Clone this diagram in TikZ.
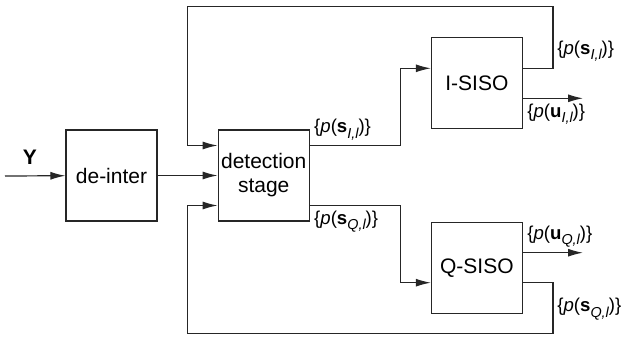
\documentclass[tikz,border=0pt]{standalone}
\usepackage{fontspec}
\setsansfont{Liberation Sans}
\usetikzlibrary{arrows.meta, positioning, calc}

\newcommand{\prob}[2]{\{\textit{p}(\textbf{#1}\raisebox{-0.55ex}{\fontsize{7.2}{8}\selectfont\itshape #2})\}}

\begin{document}
\begin{tikzpicture}[
    x=0.5pt, y=-0.5pt,
    font=\fontsize{10.5}{12}\selectfont\sffamily,
    >={Latex[length=7.5pt, width=4pt]},
    block/.style={rectangle, draw=black!85, line width=0.6pt, fill=white, align=center, minimum width=45.5pt, minimum height=45.5pt, inner sep=1pt},
    line/.style={draw, ->, line width=0.6pt, black!85},
    lab/.style={inner xsep=2pt, inner ysep=2.5pt, font=\fontsize{9.3}{11}\selectfont\sffamily}
]
\useasboundingbox (0,0) rectangle (624,342);

% Nodes
\node[block] (deinter) at (111.5,175.5) {de-inter};
\node[block, right=30pt of deinter] (detect) {detection\\stage};
\node[block, above right=0pt and 60.5pt of detect] (isiso) {I-SISO};
\node[block, below right=0pt and 60.5pt of detect] (qsiso) {Q-SISO};

\coordinate (yin) at (5,176);
\node (ylab) at (30,157) {\textbf{Y}};
\coordinate (iout) at ($(isiso.east)+(60,15)$);
\coordinate (qout) at ($(qsiso.east)+(60,-15)$);

% Edges
\draw[line] (yin) -- (deinter);
\draw[line] (deinter) -- (detect);
\draw[line] ($(detect.east)+(0,-30)$) -- ++(91,0) |- ($(isiso.west)+(0,-15)$);
\draw[line] ($(detect.east)+(0,30)$) -- ++(91,0) |- ($(qsiso.west)+(0,15)$);
\draw[line] ($(isiso.east)+(0,15)$) -- (iout);
\draw[line] ($(qsiso.east)+(0,-15)$) -- (qout);

% Feedback
\draw[line] ($(isiso.east)+(0,-15)$) -- ++(30,0) -- ++(0,-62) -| ($(detect.west)+(-30,-30)$) -- ($(detect.west)+(0,-30)$);
\draw[line] ($(qsiso.east)+(0,15)$) -- ++(30,0) -- ++(0,51) -| ($(detect.west)+(-30,30)$) -- ($(detect.west)+(0,30)$);

% Labels
\node[lab, above right] (sidet) at ($(detect.east)+(0,-30)$) {\prob{s}{I,l}};
\node[lab, below right] (sqdet) at ($(detect.east)+(0,30)$) {\prob{s}{Q,l}};
\node[lab, right] (sifb) at ($(isiso.east)+(30,-32)$) {\prob{s}{I,l}};
\node[lab, below right] (uiout) at ($(isiso.east)+(0,15)$) {\prob{u}{I,l}};
\node[lab, above right] (uqout) at ($(qsiso.east)+(0,-15)$) {\prob{u}{Q,l}};
\node[lab, right] (sqfb) at ($(qsiso.east)+(30,41.5)$) {\prob{s}{Q,l}};

\end{tikzpicture}
\end{document}
